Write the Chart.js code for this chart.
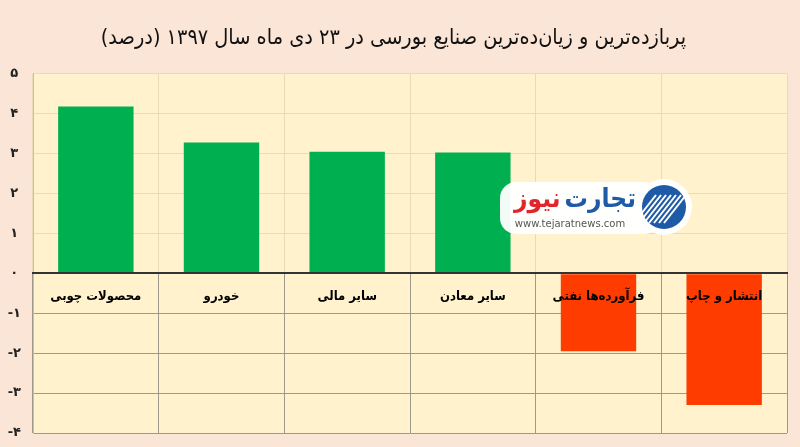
<!DOCTYPE html>
<html>
<head>
<meta charset="utf-8">
<script src="https://cdn.jsdelivr.net/npm/chart.js@4"></script>
<style>
  html, body { margin: 0; padding: 0; background: #fbe5d6; }
  #wrap { width: 800px; height: 447px; }
</style>
</head>
<body>
<div id="wrap"><canvas id="chart"></canvas></div>
<script>
// Chart data
const categories = ['محصولات چوبی', 'خودرو', 'سایر مالی', 'سایر معادن', 'فرآورده‌ها نفتی', 'انتشار و چاپ'];
const changes = [4.18, 3.28, 3.05, 3.03, -1.95, -3.3];
const yTicks = [-4, -3, -2, -1, 0, 1, 2, 3, 4, 5];

const titleText = 'پربازده‌ترین و زیان‌ده‌ترین صنایع بورسی در ۲۳ دی ماه سال ۱۳۹۷ (درصد)\u200F';

const faDigits = '۰۱۲۳۴۵۶۷۸۹';
function toFa(n) {
  return String(n).replace(/\d/g, d => faDigits[d]);
}

const lightGrid = '#e8dcb8';
const darkGrid = '#9c9a8c';
const arabicFont = '"DejaVu Sans Condensed", "DejaVu Sans"';

// plot area background
const plotBg = {
  id: 'plotBg',
  beforeDraw(chart) {
    const { ctx, chartArea: a } = chart;
    ctx.save();
    ctx.fillStyle = '#fff2cc';
    ctx.fillRect(a.left, a.top, a.right - a.left, a.bottom - a.top);
    ctx.restore();
  }
};

// watermark logo
const logo = {
  id: 'logo',
  afterDatasetsDraw(chart) {
    const ctx = chart.ctx;
    ctx.save();
    ctx.fillStyle = 'rgba(255,255,255,0.95)';
    ctx.beginPath();
    ctx.roundRect(500, 182, 160, 52, 16);
    ctx.fill();
    // round badge
    ctx.beginPath();
    ctx.arc(664, 207, 28, 0, Math.PI * 2);
    ctx.fill();
    ctx.fillStyle = '#1f5aa6';
    ctx.beginPath();
    ctx.arc(664, 207, 22, 0, Math.PI * 2);
    ctx.fill();
    ctx.strokeStyle = '#ffffff';
    ctx.lineWidth = 2;
    for (let i = -3; i <= 3; i++) {
      ctx.beginPath();
      ctx.moveTo(649 + i * 5, 223);
      ctx.lineTo(671 + i * 5, 195);
      ctx.stroke();
    }
    ctx.textAlign = 'right';
    ctx.textBaseline = 'middle';
    ctx.font = 'bold 26px ' + arabicFont;
    ctx.fillStyle = '#1f5aa6';
    ctx.fillText('تجارت', 636, 200);
    const tw = ctx.measureText('تجارت').width;
    ctx.fillStyle = '#e0262a';
    ctx.fillText('نیوز', 632 - tw, 200);
    ctx.textAlign = 'center';
    ctx.font = '10px "DejaVu Sans"';
    ctx.fillStyle = '#555555';
    ctx.fillText('www.tejaratnews.com', 570, 224);
    ctx.restore();
  }
};

function xGridColor(context) {
  const chart = context.chart;
  const a = chart.chartArea;
  if (!a || !chart.scales.y) return darkGrid;
  const zero = chart.scales.y.getPixelForValue(0);
  const g = chart.ctx.createLinearGradient(0, a.top, 0, a.bottom);
  const s = (zero - a.top) / (a.bottom - a.top);
  g.addColorStop(0, lightGrid);
  g.addColorStop(s, lightGrid);
  g.addColorStop(s, darkGrid);
  g.addColorStop(1, darkGrid);
  return g;
}

new Chart(document.getElementById('chart'), {
  type: 'bar',
  data: {
    labels: categories,
    datasets: [{
      data: changes,
      backgroundColor: changes.map(v => v >= 0 ? '#00b050' : '#ff3c00'),
      barPercentage: 0.6,
      categoryPercentage: 1
    }]
  },
  options: {
    responsive: true,
    maintainAspectRatio: false,
    animation: false,
    layout: { padding: { left: 0, right: 13, bottom: 14 } },
    plugins: {
      legend: { display: false },
      tooltip: { enabled: false },
      title: {
        display: true,
        text: titleText,
        color: '#111111',
        font: { family: arabicFont, size: 21.5, weight: 'normal' },
        padding: { top: 26, bottom: 22 }
      }
    },
    scales: {
      x: {
        position: { y: 0 },
        grid: { color: xGridColor, drawTicks: false, offset: true },
        border: { color: '#333333', width: 2, z: 1 },
        ticks: {
          z: 1,
          padding: 15,
          color: '#000000',
          font: { family: arabicFont, size: 13, weight: 'bold' }
        }
      },
      y: {
        min: -4,
        max: 5,
        afterFit(scale) {
          scale.width = 33;
          scale.paddingTop = 6;
          scale.paddingBottom = 6;
        },
        afterBuildTicks(scale) { scale.ticks = yTicks.map(v => ({ value: v })); },
        grid: {
          drawTicks: false,
          color: ctx => ctx.tick && ctx.tick.value === 0 ? '#333333' : (ctx.tick && ctx.tick.value < 0 ? darkGrid : lightGrid),
          lineWidth: ctx => ctx.tick && ctx.tick.value === 0 ? 2 : 1
        },
        border: { color: '#c9c0a6' },
        ticks: {
          crossAlign: 'center',
          padding: 12,
          color: '#222222',
          font: { family: '"DejaVu Sans"', size: 13, weight: 'bold' },
          callback: v => toFa(v)
        }
      }
    }
  },
  plugins: [plotBg, logo]
});
</script>
</body>
</html>
